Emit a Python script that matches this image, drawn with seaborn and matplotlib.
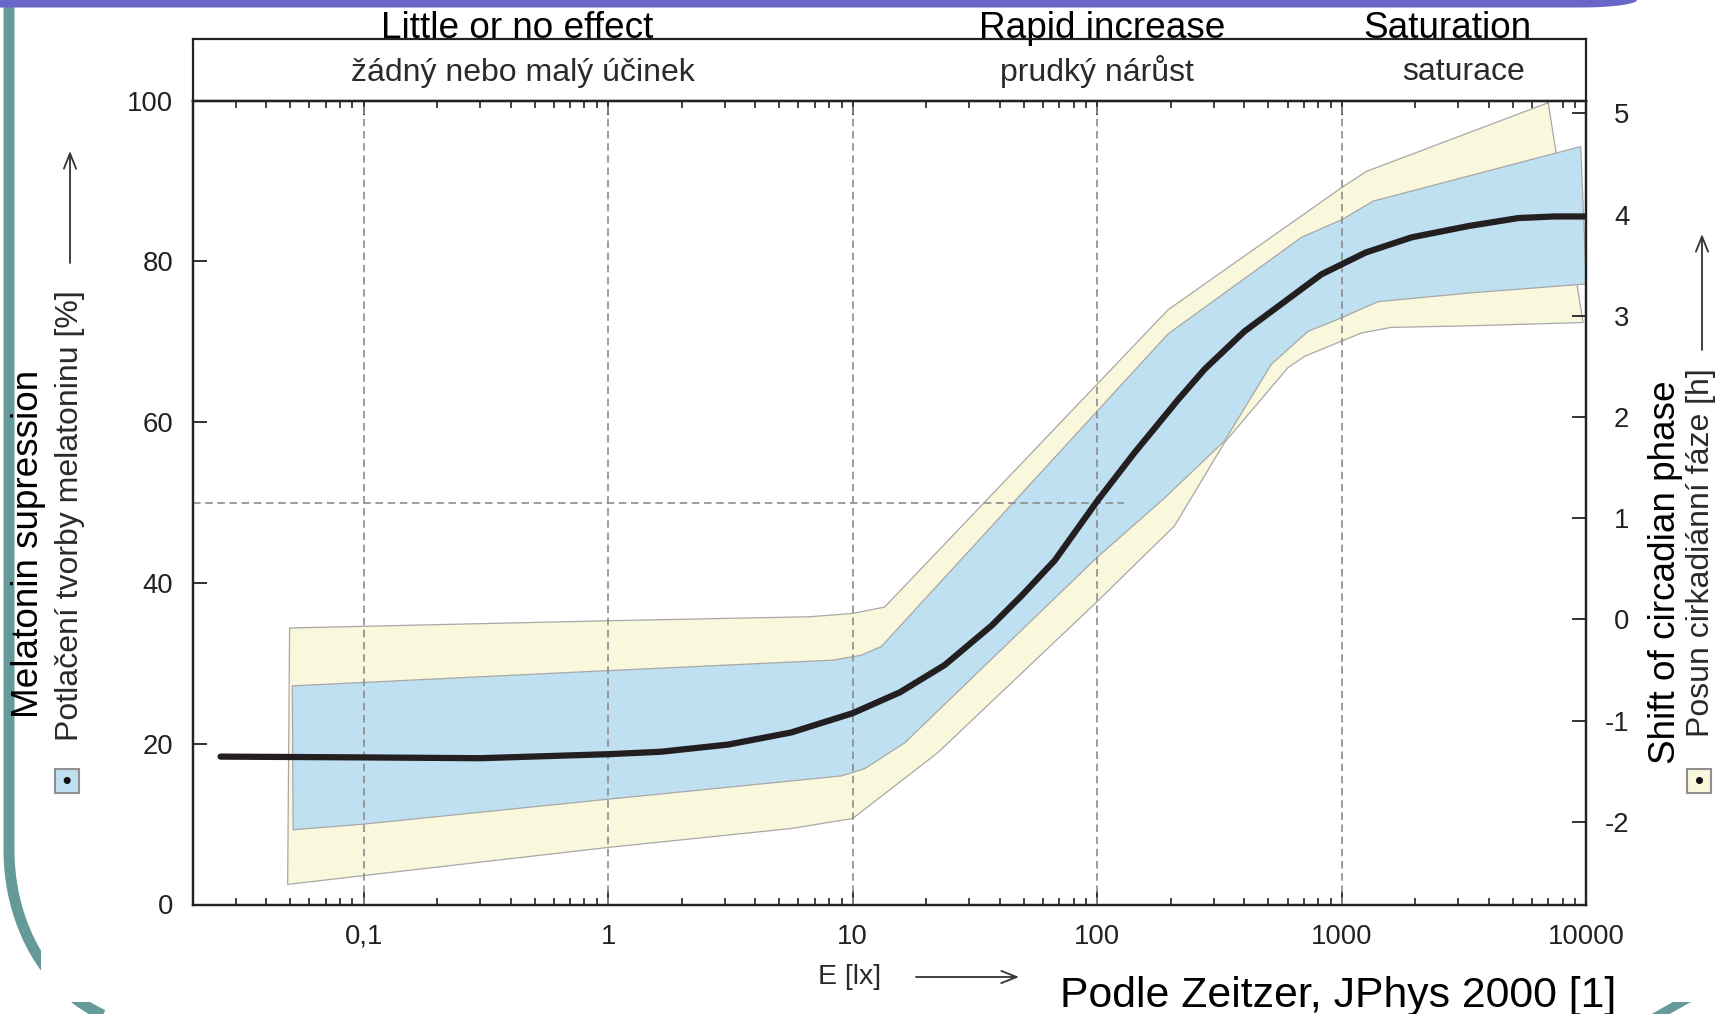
import numpy as np
import matplotlib
matplotlib.use("Agg")
import matplotlib.pyplot as plt
import seaborn as sns
from matplotlib.patches import Rectangle, Circle, Polygon
from matplotlib.ticker import FixedLocator, FixedFormatter, LogLocator, NullFormatter

# ---------------- data ----------------
median_lux = [0.026, 0.1, 0.3, 1, 1.64, 3.1, 5.6, 10, 15.6, 23.8, 37, 49, 67, 100, 142, 214,
              275, 400, 566, 826, 1250, 1930, 3290, 5270, 7430, 10000]
median_pct = [18.4, 18.3, 18.2, 18.7, 19.0, 19.9, 21.4, 23.8, 26.4, 29.8, 34.7, 38.4, 42.8,
              50.2, 56.2, 62.8, 66.6, 71.3, 74.7, 78.4, 81.1, 83.0, 84.4, 85.4, 85.6, 85.6]

# inner (blue) band: upper edge left->right, lower edge right->left
blue_upper_lux = [0.0511, 1, 8.3, 10.8, 13.1, 195, 684, 1000, 1343, 9490]
blue_upper_pct = [27.2, 29.1, 30.4, 31.0, 32.1, 71.0, 83.0, 85.2, 87.5, 94.3]
blue_lower_lux = [10000, 3388, 1407, 1000, 728, 515, 332, 189, 100, 16.3, 11.2, 9.0, 1, 0.1, 0.0515]
blue_lower_pct = [77.2, 76.1, 75.0, 73.0, 71.3, 67.2, 57.7, 50.6, 43.2, 20.1, 16.9, 16.0, 13.1, 10.0, 9.3]

# outer (yellow) band
yellow_upper_lux = [0.0498, 1, 6.69, 9.9, 13.5, 195, 1000, 1260, 6985]
yellow_upper_pct = [34.4, 35.3, 35.8, 36.2, 37.0, 74.0, 89.2, 91.2, 99.75]
yellow_lower_lux = [9700, 3388, 1596, 1202, 1000, 705, 603, 332, 207, 100, 22.3, 10, 5.59, 1, 0.1, 0.0489]
yellow_lower_pct = [72.4, 72.0, 71.8, 71.1, 70.1, 68.2, 66.8, 57.5, 47.1, 37.7, 18.9, 10.7, 9.45, 7.1, 3.6, 2.5]

x_tick_values = [0.1, 1, 10, 100, 1000, 10000]
x_tick_labels = ["0,1", "1", "10", "100", "1000", "10000"]
y_left_ticks = [0, 20, 40, 60, 80, 100]
y_right_ticks = [-2, -1, 0, 1, 2, 3, 4, 5]
y_right_labels = ["-2", "-1", "0", "1", "2", "3", "4", "5"]
guide_lux = [0.1, 1, 10, 100, 1000]
half_level = 50
half_level_end_lux = 129
x_limits = (0.02, 10000)
y_left_limits = (0, 100)
y_right_limits = (-2.818, 5.125)

# ---------------- style ----------------
sns.set_theme(style="white")
plt.rcParams["font.family"] = ["Liberation Sans", "DejaVu Sans"]
plt.rcParams["axes.unicode_minus"] = False

W, H = 1727, 1014
fig = plt.figure(figsize=(W / 100, H / 100), dpi=100)
fig.patch.set_facecolor("white")

TEAL = "#649a98"
PURPLE = "#6866c8"
BLUE = "#bee0f0"
YELLOW = "#f9f7dc"
EDGE = "#a8a8a8"
DARK = "#222222"
GUIDE = "#8c8c8c"

# ---------------- slide background decoration (pixel coords) ----------------
bg = fig.add_axes([0, 0, 1, 1], zorder=0)
bg.set_xlim(0, W)
bg.set_ylim(H, 0)
bg.axis("off")

t = np.linspace(np.pi, np.pi / 2, 60)
arc_x = np.concatenate([[9, 9], 150 + 141 * np.cos(t), [600]])
arc_y = np.concatenate([[6, 850], 850 + 175 * np.sin(t), [1025]])
bg.plot(arc_x, arc_y, color=TEAL, lw=7.9, solid_capstyle="butt", zorder=1)
bg.add_patch(Polygon([(1648, 1016), (1673, 1002), (1691, 1002), (1666, 1016)],
                     closed=True, facecolor=TEAL, edgecolor="none", zorder=1))
bg.add_patch(Rectangle((40.7, 8), W - 40.7, 1002 - 8, facecolor="white", edgecolor="none", zorder=2))
tp = np.linspace(0, np.pi / 2, 30)
purple_pts = [(0, -2), (1637, -2)] + list(zip(1580 + 57 * np.cos(tp), 7.5 * np.sin(tp))) + [(0, 7.5)]
bg.add_patch(Polygon(purple_pts, closed=True, facecolor=PURPLE, edgecolor="none", zorder=3))

# ---------------- main axes ----------------
L, R, T, B = 192.7, 1586.3, 100.7, 904.5
ax = fig.add_axes([L / W, (H - B) / H, (R - L) / W, (B - T) / H], zorder=2)
ax.set_facecolor("none")
ax.set_xscale("log")
ax.set_xlim(*x_limits)
ax.set_ylim(*y_left_limits)

ax.fill(yellow_upper_lux + yellow_lower_lux, yellow_upper_pct + yellow_lower_pct,
        facecolor=YELLOW, edgecolor=EDGE, lw=0.9, zorder=1)
ax.fill(blue_upper_lux + blue_lower_lux, blue_upper_pct + blue_lower_pct,
        facecolor=BLUE, edgecolor=EDGE, lw=0.9, zorder=2)
for gx in guide_lux:
    ax.axvline(gx, color=GUIDE, lw=1.2, dashes=(4.5, 2.8), zorder=3)
ax.plot([x_limits[0], half_level_end_lux], [half_level, half_level],
        color=GUIDE, lw=1.2, dashes=(4.5, 2.8), zorder=3)

sns.lineplot(x=median_lux, y=median_pct, ax=ax, color="#231f20", lw=4.5,
             estimator=None, legend=False, zorder=4, solid_capstyle="round")

for sp in ax.spines.values():
    sp.set_visible(True)
    sp.set_color(DARK)
    sp.set_linewidth(1.6)

ax.xaxis.set_major_locator(FixedLocator(x_tick_values))
ax.xaxis.set_major_formatter(FixedFormatter(x_tick_labels))
ax.xaxis.set_minor_locator(LogLocator(base=10, subs=np.arange(2, 10)))
ax.xaxis.set_minor_formatter(NullFormatter())
ax.tick_params(axis="x", which="major", direction="in", length=10, width=1.3,
               top=True, bottom=True, labelsize=19.8, pad=14, color=DARK, labelcolor=DARK)
ax.tick_params(axis="x", which="minor", direction="in", length=5, width=1.2,
               top=True, bottom=True, color=DARK)
ax.set_yticks(y_left_ticks)
ax.tick_params(axis="y", which="major", direction="in", length=10, width=1.3,
               left=True, right=False, labelsize=19.8, pad=14, color=DARK, labelcolor=DARK)
ax.set_xlabel("")
ax.set_ylabel("")
ax.grid(False)

ax2 = ax.twinx()
ax2.set_ylim(*y_right_limits)
ax2.yaxis.set_major_locator(FixedLocator(y_right_ticks))
ax2.yaxis.set_major_formatter(FixedFormatter(y_right_labels))
ax2.tick_params(axis="y", direction="in", length=10, width=1.3, right=True, left=False,
                labelsize=19.8, pad=31, color=DARK, labelcolor=DARK)
for sp in ax2.spines.values():
    sp.set_color(DARK)
    sp.set_linewidth(1.6)
ax2.grid(False)
fig.canvas.draw()
for lbl in ax2.get_yticklabels():
    lbl.set_horizontalalignment("right")

# ---------------- header band ----------------
hd = fig.add_axes([L / W, (H - T) / H, (R - L) / W, (T - 39.3) / H], zorder=2)
hd.set_facecolor("none")
hd.set_xticks([])
hd.set_yticks([])
for sp in hd.spines.values():
    sp.set_visible(True)
    sp.set_color(DARK)
    sp.set_linewidth(1.6)

# ---------------- texts (pixel coords on background layer) ----------------
big = 26.6
mid = 23.0
for txt, x in [("Little or no effect", 517), ("Rapid increase", 1102.6), ("Saturation", 1447.5)]:
    bg.text(x, 38.0, txt, ha="center", va="baseline", fontsize=big, color="black", zorder=5)
for txt, x in [("žádný nebo malý účinek", 523), ("prudký nárůst", 1097), ("saturace", 1464)]:
    bg.text(x, 80.5, txt, ha="center", va="baseline", fontsize=mid, color="#2a2a2a", zorder=5)

bg.text(29, 544, "Melatonin supression", rotation=90, ha="center", va="center",
        fontsize=big, color="black", zorder=5)
bg.text(70, 516, "Potlačení tvorby melatoninu [%]", rotation=90, ha="center", va="center",
        fontsize=mid, color="#2a2a2a", zorder=5)
bg.text(1666, 572, "Shift of circadian phase", rotation=90, ha="center", va="center",
        fontsize=big, color="black", zorder=5)
bg.text(1701, 553, "Posun cirkadiánní fáze [h]", rotation=90, ha="center", va="center",
        fontsize=mid, color="#2a2a2a", zorder=5)

arrow_kw = dict(arrowstyle="->,head_length=0.55,head_width=0.22", mutation_scale=20,
                lw=1.3, color="#333333", shrinkA=0, shrinkB=0)
bg.annotate("", xy=(70, 151), xytext=(70, 263), arrowprops=arrow_kw, zorder=5)
bg.annotate("", xy=(1702, 234), xytext=(1702, 350), arrowprops=arrow_kw, zorder=5)
bg.annotate("", xy=(1019, 977), xytext=(916, 977), arrowprops=arrow_kw, zorder=5)

bg.text(850, 977, "E [lx]", ha="center", va="center", fontsize=20.5, color="#2a2a2a", zorder=5)
bg.text(1060, 1007, "Podle Zeitzer, JPhys 2000 [1]", ha="left", va="baseline",
        fontsize=30.8, color="black", zorder=5)

# legend swatches
for cx, col in [(67.2, BLUE), (1699.5, YELLOW)]:
    bg.add_patch(Rectangle((cx - 12, 780.5 - 12), 24, 24, facecolor=col,
                           edgecolor="#909090", lw=1.5, zorder=5))
    bg.add_patch(Circle((cx, 780.5), 3.5, facecolor="#111111", edgecolor="none", zorder=6))

fig.savefig("out.png", dpi=100)
